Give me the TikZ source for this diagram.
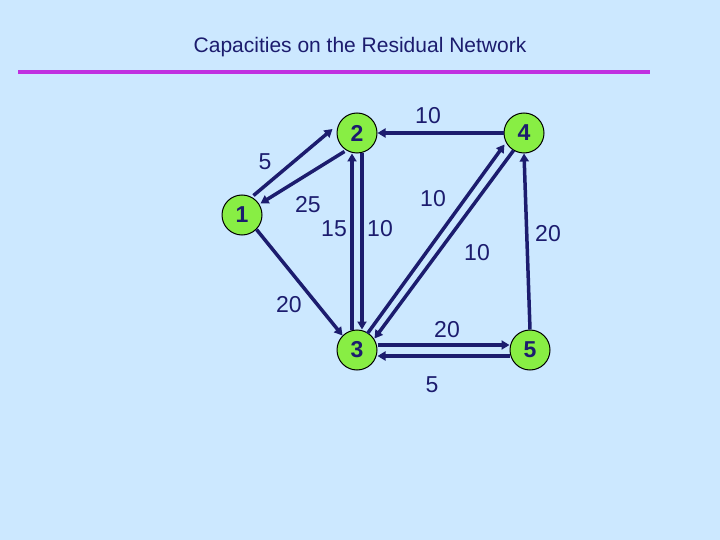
\documentclass[tikz,border=0pt]{standalone}
\usepackage{fontspec}
\setmainfont{Liberation Sans}
\usetikzlibrary{arrows.meta}
\definecolor{bg}{HTML}{CCE8FF}
\definecolor{navy}{HTML}{1C1C6E}
\definecolor{nodeg}{HTML}{88EE44}
\definecolor{bar}{HTML}{C030E0}
\begin{document}
\begin{tikzpicture}[x=1pt,y=-1pt,
  v/.style={circle,draw=black,line width=1pt,fill=nodeg,minimum size=40pt,inner sep=0pt,font=\fontsize{23}{23}\selectfont\bfseries,text=navy},
  e/.style={draw=navy,line width=3.5pt,-{Triangle[length=8pt,width=9pt]}},
  l/.style={font=\fontsize{23}{23}\selectfont,text=navy}]
\fill[bg] (0,0) rectangle (720,540);
\useasboundingbox (0,0) rectangle (720,540);
\node[font=\fontsize{21}{22}\selectfont,text=navy] (t) at (360,47) {Capacities on the Residual Network};
\coordinate (b1) at (18,72); \coordinate (b2) at (650,72);
\draw[bar,line width=4pt] (b1) -- (b2);
\node[v] (n1) at (242,215) {1};
\node[v] (n2) at (357,133) {2};
\node[v] (n4) at (524,133) {4};
\node[v] (n3) at (357,350) {3};
\node[v] (n5) at (530,350) {5};
\draw[e] ([shift={(-3,-5)}]n1.north east) -- ([shift={(-4,-4)}]n2.west);
\draw[e] ([shift={(2,4)}]n2.south west) -- ([shift={(4,3)}]n1.north east);
\draw[e] (n1.south east) -- (n3.north west);
\draw[e] ([xshift=-5]n3.north) -- ([xshift=-5]n2.south);
\draw[e] ([xshift=5]n2.south) -- ([xshift=5]n3.north);
\draw[e] (n4.west) -- (n2.east);
\draw[e] ([shift={(-4,-2)}]n3.north east) -- ([shift={(-5,-3)}]n4.south west);
\draw[e] ([shift={(4,3)}]n4.south west) -- ([shift={(3,3)}]n3.north east);
\draw[e] ([yshift=5]n3.east) -- ([yshift=5]n5.west);
\draw[e] ([yshift=-6]n5.west) -- ([yshift=-6]n3.east);
\draw[e] (n5.north) -- (n4.south);
\node[l] at (265,162) {5};
\node[l] at (428,116) {10};
\node[l] at (308,205) {25};
\node[l] at (334,229) {15};
\node[l] at (380,229) {10};
\node[l] at (433,199) {10};
\node[l] at (477,253) {10};
\node[l] at (548,234) {20};
\node[l] at (289,305) {20};
\node[l] at (447,330) {20};
\node[l] at (432,385) {5};
\end{tikzpicture}
\end{document}
